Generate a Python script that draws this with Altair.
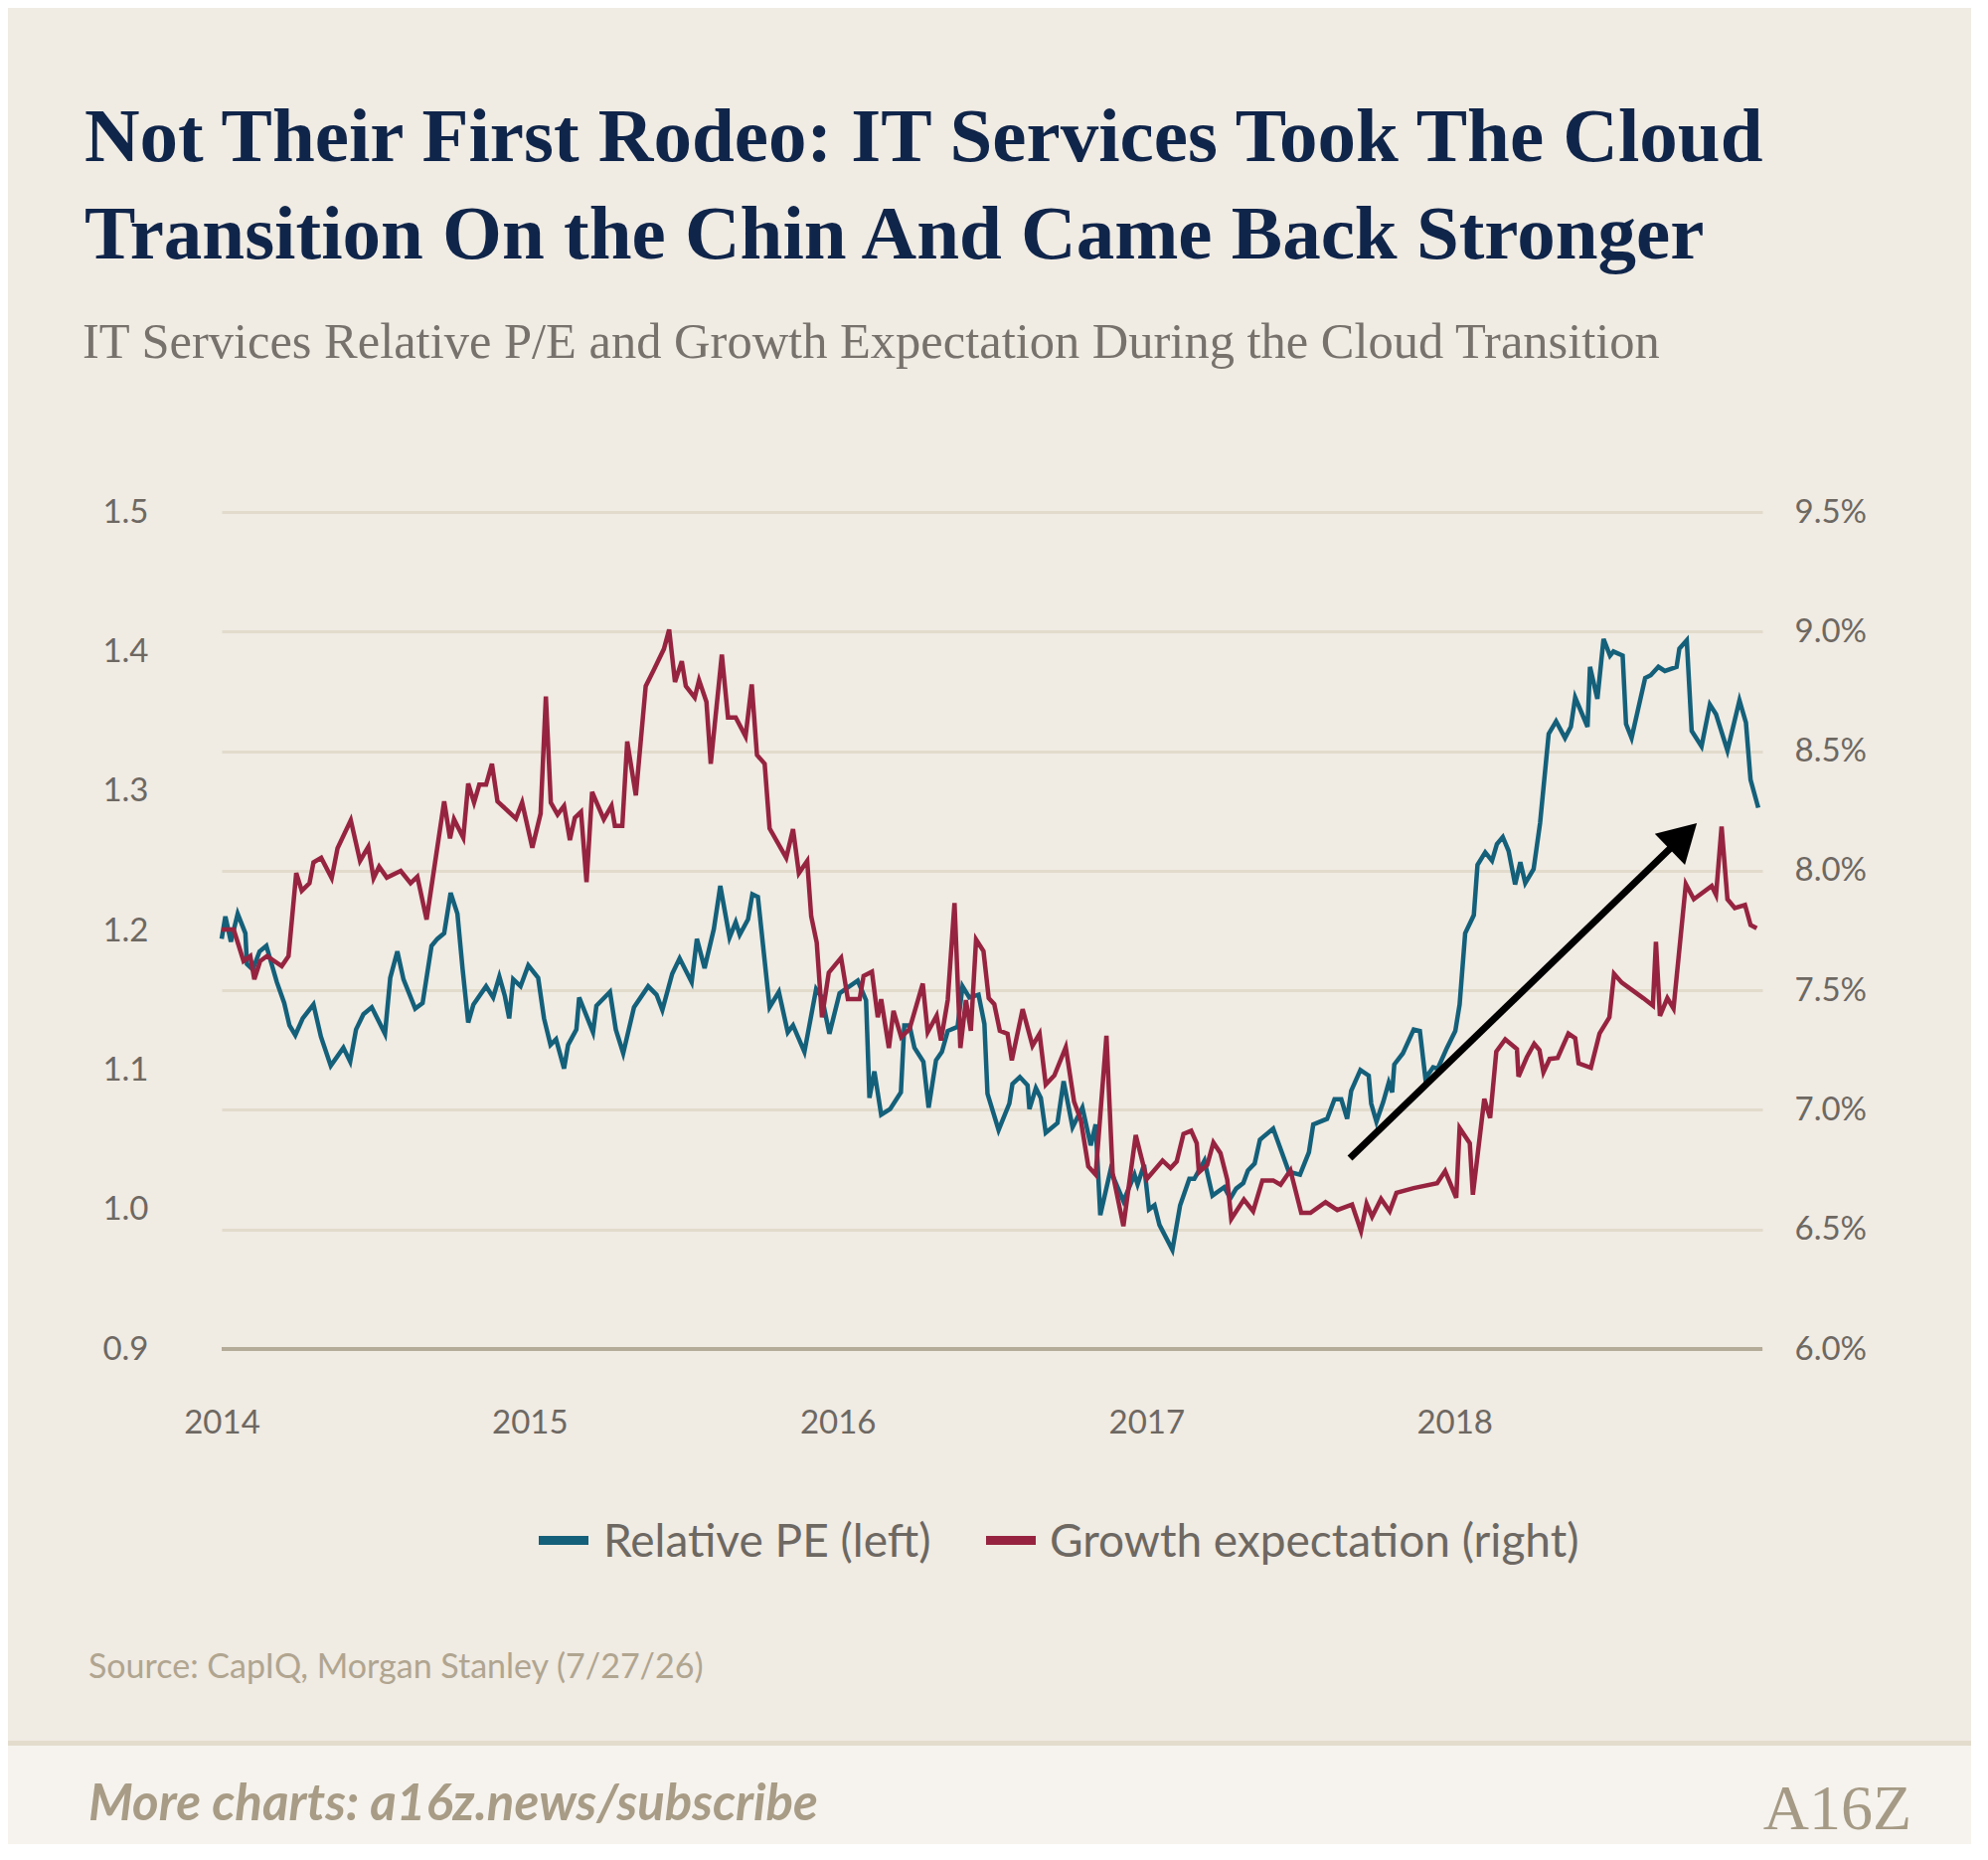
import altair as alt
import pandas as pd

# ---------------- data ----------------
years = [2014, 2015, 2016, 2017, 2018]
pe_ticks = [0.9, 1.0, 1.1, 1.2, 1.3, 1.4, 1.5]
g_ticks = [6.0, 6.5, 7.0, 7.5, 8.0, 8.5, 9.0, 9.5]

# Relative PE (left axis): time in years since 2014-01-01, value
pe_t = [0.000,0.012,0.030,0.052,0.077,0.082,0.101,0.123,0.145,0.179,
        0.203,0.220,0.239,0.263,0.298,0.322,0.354,0.395,0.417,0.436,
        0.460,0.487,0.530,0.547,0.570,0.590,0.628,0.652,0.681,0.700,
        0.722,0.743,0.765,0.782,0.800,0.817,0.858,0.881,0.901,0.919,
        0.933,0.946,0.970,0.995,1.027,1.046,1.067,1.085,1.111,1.124,
        1.151,1.160,1.205,1.216,1.260,1.279,1.303,1.338,1.384,1.411,
        1.430,1.462,1.486,1.525,1.542,1.567,1.597,1.618,1.648,1.668,
        1.681,1.708,1.722,1.740,1.778,1.808,1.837,1.854,1.891,1.929,
        1.948,1.972,2.005,2.064,2.091,2.102,2.118,2.140,2.169,2.204,
        2.215,2.232,2.248,2.277,2.294,2.318,2.337,2.356,2.388,2.404,
        2.426,2.456,2.475,2.485,2.521,2.556,2.566,2.590,2.615,2.621,
        2.642,2.658,2.674,2.712,2.732,2.761,2.793,2.820,2.836,2.851,
        2.884,2.926,2.962,2.972,2.993,3.009,3.027,3.043,3.085,3.110,
        3.140,3.156,3.189,3.215,3.253,3.273,3.292,3.315,3.330,3.352,
        3.369,3.412,3.463,3.499,3.528,3.542,3.587,3.611,3.633,3.652,
        3.665,3.695,3.722,3.730,3.747,3.769,3.787,3.798,3.805,3.833,
        3.868,3.888,3.906,3.931,3.946,3.976,4.003,4.017,4.035,4.063,
        4.075,4.100,4.122,4.138,4.157,4.176,4.197,4.214,4.230,4.257,
        4.278,4.306,4.330,4.359,4.378,4.392,4.432,4.440,4.464,4.484,
        4.505,4.516,4.546,4.557,4.575,4.619,4.637,4.662,4.683,4.721,
        4.730,4.754,4.770,4.802,4.829,4.849,4.886,4.925,4.946,4.961,4.986]
pe_v = [1.194,1.210,1.192,1.212,1.198,1.176,1.172,1.185,1.189,1.163,
        1.148,1.132,1.125,1.137,1.147,1.124,1.103,1.116,1.106,1.129,
        1.140,1.145,1.126,1.166,1.185,1.165,1.144,1.148,1.189,1.194,
        1.198,1.227,1.212,1.172,1.134,1.147,1.160,1.152,1.167,1.153,
        1.137,1.165,1.160,1.175,1.166,1.137,1.118,1.122,1.101,1.118,
        1.129,1.152,1.127,1.146,1.156,1.129,1.112,1.145,1.160,1.154,
        1.143,1.169,1.180,1.163,1.194,1.173,1.201,1.232,1.195,1.206,
        1.197,1.208,1.226,1.224,1.145,1.156,1.127,1.132,1.113,1.158,
        1.152,1.126,1.155,1.164,1.150,1.080,1.099,1.068,1.072,1.084,
        1.132,1.132,1.116,1.106,1.073,1.107,1.113,1.128,1.131,1.160,
        1.152,1.154,1.133,1.083,1.057,1.076,1.090,1.095,1.089,1.072,
        1.087,1.080,1.055,1.062,1.092,1.059,1.073,1.046,1.061,0.996,
        1.028,1.006,1.025,1.018,1.032,1.000,1.003,0.989,0.971,1.003,
        1.022,1.022,1.035,1.010,1.016,1.008,1.015,1.019,1.028,1.033,
        1.050,1.058,1.027,1.025,1.041,1.061,1.065,1.079,1.079,1.065,
        1.085,1.100,1.096,1.076,1.063,1.077,1.091,1.084,1.104,1.112,
        1.129,1.128,1.094,1.102,1.101,1.116,1.128,1.147,1.198,1.211,
        1.247,1.256,1.250,1.262,1.267,1.257,1.233,1.249,1.234,1.244,
        1.277,1.341,1.350,1.338,1.346,1.367,1.346,1.389,1.366,1.409,
        1.397,1.400,1.397,1.348,1.338,1.381,1.383,1.389,1.386,1.389,
        1.402,1.408,1.343,1.332,1.362,1.355,1.329,1.365,1.349,1.308,1.288]

# Growth expectation (right axis, %)
g_t = [0.000,0.039,0.071,0.093,0.106,0.125,0.147,0.195,0.217,0.242,
       0.260,0.285,0.298,0.323,0.357,0.376,0.419,0.449,0.476,0.493,
       0.511,0.536,0.581,0.613,0.635,0.665,0.722,0.741,0.754,0.784,
       0.800,0.819,0.836,0.858,0.877,0.895,0.955,0.975,1.008,1.035,
       1.052,1.068,1.090,1.111,1.130,1.146,1.166,1.184,1.202,1.240,
       1.265,1.276,1.300,1.316,1.344,1.376,1.402,1.435,1.452,1.471,
       1.493,1.506,1.535,1.549,1.573,1.587,1.623,1.643,1.668,1.700,
       1.720,1.737,1.762,1.778,1.832,1.854,1.873,1.900,1.913,1.931,
       1.948,1.970,2.010,2.032,2.070,2.083,2.110,2.129,2.140,2.165,
       2.180,2.205,2.232,2.275,2.291,2.320,2.334,2.356,2.378,2.397,
       2.415,2.431,2.448,2.472,2.489,2.507,2.525,2.550,2.564,2.599,
       2.631,2.654,2.674,2.702,2.739,2.766,2.788,2.812,2.836,2.871,
       2.891,2.926,2.966,3.002,3.053,3.079,3.099,3.121,3.146,3.164,
       3.171,3.198,3.218,3.241,3.263,3.276,3.317,3.347,3.377,3.412,
       3.436,3.468,3.503,3.533,3.582,3.620,3.668,3.697,3.715,3.733,
       3.762,3.790,3.812,3.868,3.944,3.970,4.006,4.017,4.050,4.060,
       4.097,4.116,4.136,4.165,4.203,4.208,4.235,4.259,4.276,4.289,
       4.309,4.335,4.370,4.392,4.403,4.443,4.471,4.503,4.518,4.543,
       4.613,4.644,4.654,4.667,4.691,4.711,4.751,4.777,4.835,4.849,
       4.867,4.886,4.910,4.943,4.961,4.981]
g_v = [7.754,7.754,7.622,7.643,7.546,7.622,7.643,7.601,7.643,7.990,
       7.916,7.948,8.035,8.054,7.969,8.094,8.211,8.041,8.100,7.969,
       8.017,7.971,7.999,7.948,7.975,7.796,8.290,8.135,8.215,8.138,
       8.364,8.285,8.360,8.360,8.447,8.290,8.218,8.285,8.096,8.239,
       8.728,8.285,8.235,8.271,8.128,8.221,8.246,7.952,8.329,8.215,
       8.271,8.187,8.187,8.540,8.315,8.772,8.839,8.927,9.008,8.789,
       8.876,8.772,8.724,8.797,8.706,8.447,8.904,8.641,8.641,8.562,
       8.779,8.484,8.447,8.177,8.054,8.174,7.990,8.041,7.809,7.699,
       7.387,7.574,7.636,7.463,7.463,7.560,7.578,7.387,7.463,7.259,
       7.414,7.304,7.338,7.528,7.325,7.394,7.290,7.459,7.865,7.259,
       7.459,7.331,7.712,7.664,7.467,7.442,7.331,7.318,7.207,7.421,
       7.268,7.318,7.106,7.144,7.262,7.034,6.957,6.764,6.729,7.310,
       6.736,6.514,6.895,6.711,6.788,6.756,6.784,6.899,6.913,6.860,
       6.739,6.770,6.863,6.819,6.708,6.544,6.625,6.576,6.705,6.705,
       6.687,6.747,6.569,6.569,6.614,6.581,6.604,6.493,6.608,6.553,
       6.628,6.576,6.653,6.673,6.693,6.744,6.632,6.924,6.860,6.645,
       7.046,6.966,7.244,7.295,7.254,7.139,7.220,7.276,7.250,7.157,
       7.213,7.217,7.319,7.300,7.195,7.176,7.319,7.387,7.569,7.532,
       7.467,7.436,7.703,7.393,7.467,7.424,7.944,7.881,7.936,7.899,
       8.185,7.881,7.844,7.857,7.773,7.759]

# annotation arrow (on the right-axis scale)
arrow_t = [3.661, 4.705]
arrow_v = [6.798, 8.099]
head_t = [4.743]
head_v = [8.144]

# ---------------- styling ----------------
BG = "#f0ebe3"
BLUE = "#14607a"
RED = "#962440"
GRID = "#e2dbcc"
LABEL = "#6d6862"
SANS = "Lato"
SERIF = "Liberation Serif"
W, H = 1550, 842

BASE = pd.Timestamp("2014-01-01")


def to_dates(ts):
    return [(BASE + pd.Timedelta(days=t * 365.25)).strftime("%Y-%m-%dT%H:%M:%S") for t in ts]


pe_df = pd.DataFrame({"date": to_dates(pe_t), "v": pe_v})
g_df = pd.DataFrame({"date": to_dates(g_t), "v": g_v})
arrow_df = pd.DataFrame({"date": to_dates(arrow_t), "v": arrow_v})
head_df = pd.DataFrame({"date": to_dates(head_t), "v": head_v})

x_axis = alt.Axis(
    values=[alt.DateTime(year=y, month=1, date=1) for y in years],
    format="%Y", labelFont=SANS, labelFontSize=33, labelColor=LABEL,
    labelPadding=58, ticks=False, tickSize=0, domain=False, grid=False,
    labelFlush=False, labelOverlap=False,
)
x_scale = alt.Scale(domain=[alt.DateTime(year=2014, month=1, date=1),
                            alt.DateTime(year=2019, month=1, date=1)])


def X():
    return alt.X("date:T", scale=x_scale, axis=x_axis, title=None)


pe_axis = alt.Axis(orient="left", values=pe_ticks, format=".1f", grid=False, domain=False,
                   ticks=False, tickSize=0, labelPadding=74, labelFont=SANS,
                   labelFontSize=33, labelColor=LABEL)
g_axis = alt.Axis(orient="right", values=g_ticks, labelExpr="format(datum.value, '.1f') + '%'",
                  grid=True, gridColor=GRID, gridWidth=3, domain=False, ticks=False,
                  tickSize=0, labelPadding=32, labelFont=SANS, labelFontSize=33,
                  labelColor=LABEL)
pe_scale = alt.Scale(domain=[0.9, 1.5], zero=False, nice=False)
g_scale = alt.Scale(domain=[6.0, 9.5], zero=False, nice=False)

blue = alt.Chart(pe_df).mark_line(color=BLUE, strokeWidth=4.5).encode(
    x=X(), y=alt.Y("v:Q", scale=pe_scale, axis=pe_axis, title=None)
)

red = alt.Chart(g_df).mark_line(color=RED, strokeWidth=4.5).encode(
    x=X(), y=alt.Y("v:Q", scale=g_scale, axis=g_axis, title=None)
)
arrow = alt.Chart(arrow_df).mark_line(color="black", strokeWidth=7).encode(
    x=X(), y=alt.Y("v:Q", scale=g_scale, axis=g_axis, title=None)
)
head = alt.Chart(head_df).mark_point(shape="triangle-up", filled=True, color="black",
                                      opacity=1, size=1900, angle=46).encode(
    x=X(), y=alt.Y("v:Q", scale=g_scale, axis=g_axis, title=None)
)
right_group = alt.layer(red, arrow, head)

one = alt.Data(values=[{"a": 0}])


def deco_text(text, x, y, size, color, font=SANS, weight="normal", style="normal", align="left"):
    return alt.Chart(one).mark_text(
        text=text, align=align, baseline="alphabetic", font=font, fontSize=size,
        fontWeight=weight, fontStyle=style, color=color,
    ).encode(x=alt.value(x), y=alt.value(y))


def deco_rect(x, x2, y, y2, color):
    return alt.Chart(one).mark_rect(color=color).encode(
        x=alt.value(x), x2=alt.value(x2), y=alt.value(y), y2=alt.value(y2)
    )


band = deco_rect(-215, W + 210, 1236, 1345, "#f6f3ee")
band_line = deco_rect(-215, W + 210, 1236, 1241, "#e3dccd")
base_rule = alt.Chart(one).mark_rule(color="#b5ab99", strokeWidth=4).encode(
    x=alt.value(0), x2=alt.value(W), y=alt.value(H)
)

title1 = deco_text("Not Their First Rodeo: IT Services Took The Cloud", -138, -353, 77,
                   "#10254a", font=SERIF, weight="bold")
title2 = deco_text("Transition On the Chin And Came Back Stronger", -138, -255, 77,
                   "#10254a", font=SERIF, weight="bold")
subtitle = deco_text("IT Services Relative P/E and Growth Expectation During the Cloud Transition",
                     -140, -155, 50.5, "#77726c", font=SERIF)

leg_blue = deco_rect(319, 369, 1030, 1039, BLUE)
leg_blue_t = deco_text("Relative PE (left)", 384, 1051, 46, LABEL)
leg_red = deco_rect(769, 819, 1030, 1039, RED)
leg_red_t = deco_text("Growth expectation (right)", 833, 1051, 46, LABEL)

source = deco_text("Source: CapIQ, Morgan Stanley (7/27/26)", -134, 1173, 34, "#b0a590")
footer = deco_text("More charts: a16z.news/subscribe", -134, 1316, 51, "#a89c86",
                   weight="bold", style="italic")
logo = deco_text("A16Z", 1700, 1325, 64, "#a59a85", font=SERIF, align="right")

chart = alt.layer(
    band, band_line, blue, right_group, base_rule,
    title1, title2, subtitle, leg_blue, leg_blue_t, leg_red, leg_red_t,
    source, footer, logo,
).resolve_scale(y="independent").properties(
    width=W, height=H,
    autosize=alt.AutoSizeParams(type="none"),
    padding={"left": 215, "top": 507, "right": 210, "bottom": 498},
).configure(background=BG).configure_view(strokeWidth=0)

chart.save("out.html", embed_options={"renderer": "svg", "actions": False})
